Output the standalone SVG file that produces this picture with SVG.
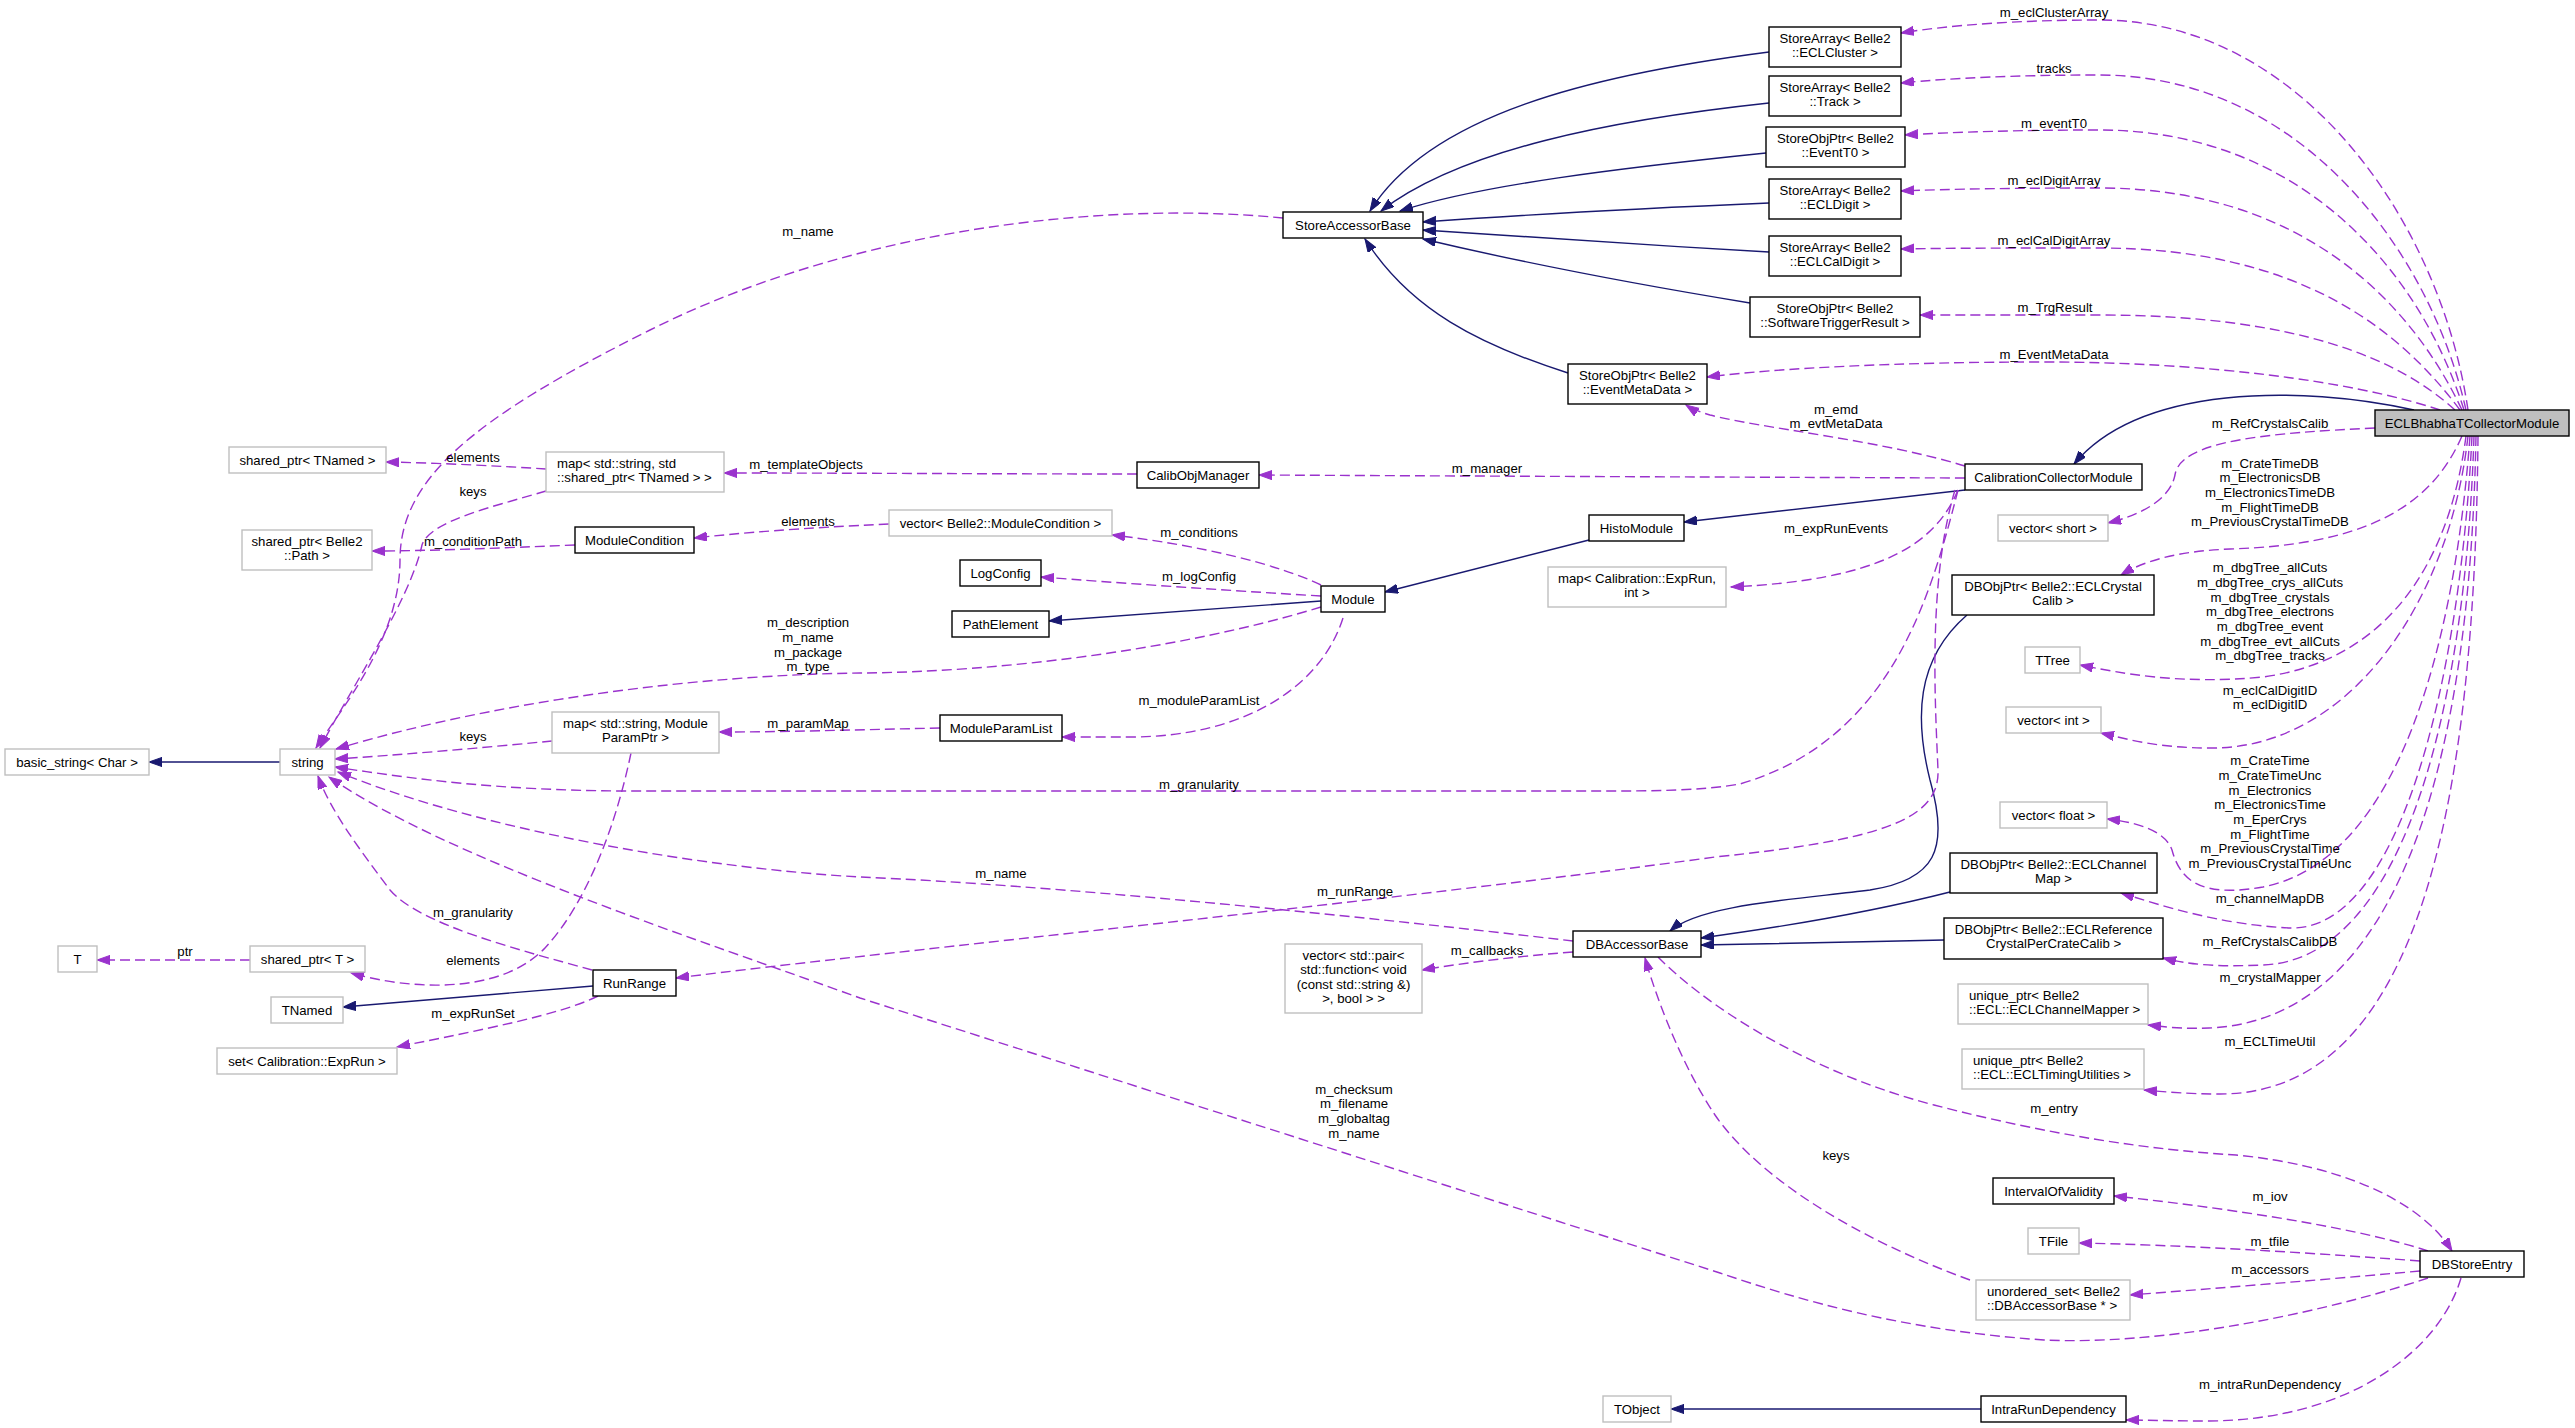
<svg xmlns="http://www.w3.org/2000/svg" width="2575" height="1428" viewBox="0 0 2575 1428">
<style>
text{font-family:"Liberation Sans",Arial,Helvetica,sans-serif;font-size:13.2px;fill:#000}
.n rect{fill:#fff;stroke:#000;stroke-width:1.4}
.u rect{stroke:#bfbfbf}
.root rect{fill:#bfbfbf}
.n text{text-anchor:middle}
.n text.l{text-anchor:start}
.lbl text{text-anchor:middle}
.inh{fill:none;stroke:#191970;stroke-width:1.4;marker-end:url(#an)}
.mem{fill:none;stroke:#9a32cd;stroke-width:1.4;stroke-dasharray:10,5;marker-end:url(#ap)}
</style>
<defs>
<marker id="an" markerUnits="userSpaceOnUse" markerWidth="15" markerHeight="11" refX="13" refY="4.6" orient="auto"><path d="M0,0 L13,4.6 L0,9.2 Z" fill="#191970" stroke="#191970" stroke-width="1"/></marker>
<marker id="ap" markerUnits="userSpaceOnUse" markerWidth="15" markerHeight="11" refX="13" refY="4.6" orient="auto"><path d="M0,0 L13,4.6 L0,9.2 Z" fill="#9a32cd" stroke="#9a32cd" stroke-width="1"/></marker>
</defs>
<rect width="2575" height="1428" fill="#fff"/>

<g id="edges">
<!-- inheritance -->
<path class="inh" d="M1769,52 C1590,75 1430,115 1370,211"/>
<path class="inh" d="M1769,103 C1610,120 1460,150 1381,211"/>
<path class="inh" d="M1766,153 C1620,168 1480,185 1400,211"/>
<path class="inh" d="M1769,203 C1650,208 1520,215 1423,222"/>
<path class="inh" d="M1769,252 C1650,245 1520,237 1423,230"/>
<path class="inh" d="M1750,303 C1640,285 1520,262 1423,239"/>
<path class="inh" d="M1568,373 C1480,345 1410,310 1365,239"/>
<path class="inh" d="M2414,410 C2300,385 2140,385 2074,464"/>
<path class="inh" d="M1965,490 L1684,522"/>
<path class="inh" d="M1589,540 L1385,592"/>
<path class="inh" d="M1321,601 L1049,621"/>
<path class="inh" d="M280,762 L149,762"/>
<path class="inh" d="M593,986 L343,1007"/>
<path class="inh" d="M1981,1409 L1671,1409"/>
<path class="inh" d="M1967,615 C1915,660 1915,720 1930,780 C1950,850 1935,880 1870,890 C1790,900 1700,905 1670,931"/>
<path class="inh" d="M1950,892 C1860,915 1760,930 1701,938"/>
<path class="inh" d="M1944,940 C1860,942 1770,944 1701,945"/>

<!-- members from ECLBhabhaTCollectorModule -->
<path class="mem" d="M2468,410 C2440,220 2300,20 2099,20 C2020,20 1950,25 1901,33"/>
<path class="mem" d="M2466,410 C2430,250 2300,75 2099,75 C2020,75 1950,78 1901,83"/>
<path class="mem" d="M2464,410 C2420,270 2300,130 2099,130 C2020,130 1955,132 1905,135"/>
<path class="mem" d="M2462,410 C2410,300 2300,188 2099,188 C2020,188 1950,189 1901,191"/>
<path class="mem" d="M2460,410 C2400,330 2300,248 2099,248 C2020,248 1950,248 1901,249"/>
<path class="mem" d="M2455,410 C2400,360 2300,315 2099,315 C2030,315 1970,315 1920,315"/>
<path class="mem" d="M2440,410 C2350,380 2200,362 2044,362 C1900,362 1780,368 1707,377"/>
<path class="mem" d="M2375,428 C2270,433 2180,440 2175,475 C2170,500 2140,515 2108,523"/>
<path class="mem" d="M2462,436 C2430,510 2360,545 2230,549 C2180,551 2145,560 2121,575"/>
<path class="mem" d="M2466,436 C2450,560 2390,660 2263,677 C2180,685 2120,673 2080,665"/>
<path class="mem" d="M2468,436 C2450,600 2350,750 2209,748 C2160,748 2130,740 2101,733"/>
<path class="mem" d="M2470,436 C2455,640 2400,860 2263,887 C2200,898 2180,880 2172,850 C2165,830 2135,822 2107,819"/>
<path class="mem" d="M2472,436 C2460,680 2400,930 2291,928 C2220,925 2160,905 2121,893"/>
<path class="mem" d="M2474,436 C2465,720 2400,960 2263,965 C2220,967 2190,965 2163,958"/>
<path class="mem" d="M2476,436 C2470,760 2400,1020 2209,1028 C2180,1029 2165,1027 2148,1025"/>
<path class="mem" d="M2478,436 C2475,800 2420,1094 2220,1094 C2190,1094 2165,1092 2144,1090"/>

<!-- other members -->
<path class="mem" d="M1965,466 C1880,440 1760,428 1710,415 C1700,412 1692,409 1686,405"/>
<path class="mem" d="M1965,478 C1700,477 1450,476 1259,475"/>
<path class="mem" d="M1137,474 C1000,474 850,473 724,473"/>
<path class="mem" d="M546,469 C500,466 440,463 386,462"/>
<path class="mem" d="M546,491 C500,505 430,520 422,545 C410,600 350,690 320,748"/>
<path class="mem" d="M1283,218 C1100,200 850,230 650,330 C470,420 400,480 400,560 C400,640 340,710 316,748"/>
<path class="mem" d="M889,524 C800,528 740,533 694,538"/>
<path class="mem" d="M575,545 C500,548 430,551 372,551"/>
<path class="mem" d="M1321,585 C1280,565 1200,545 1112,535"/>
<path class="mem" d="M1321,596 C1220,590 1120,583 1041,577"/>
<path class="mem" d="M1321,607 C1180,650 1000,672 860,673 C700,675 500,700 336,749"/>
<path class="mem" d="M1343,618 C1320,690 1240,737 1130,737 C1100,737 1080,737 1062,737"/>
<path class="mem" d="M940,728 C850,730 780,732 719,732"/>
<path class="mem" d="M552,741 C480,748 400,755 335,759"/>
<path class="mem" d="M631,753 C615,830 585,905 545,948 C500,995 410,990 351,973"/>
<path class="mem" d="M250,960 L97,960"/>
<path class="mem" d="M1958,490 C1930,600 1890,740 1740,784 C1700,791 1650,791 1600,791 L620,791 C500,790 420,780 335,767"/>
<path class="mem" d="M1958,490 C1935,545 1880,580 1731,587"/>
<path class="mem" d="M1955,490 C1928,580 1935,700 1938,770 C1940,820 1880,840 1715,857 C1400,900 900,950 676,978"/>
<path class="mem" d="M1573,941 C1350,915 1050,885 860,877 C700,868 480,830 338,772"/>
<path class="mem" d="M1573,952 C1520,956 1470,962 1422,970"/>
<path class="mem" d="M1658,957 C1700,1000 1800,1070 1934,1105 C2050,1135 2150,1150 2236,1155 C2340,1165 2420,1200 2452,1251"/>
<path class="mem" d="M1970,1280 C1860,1240 1760,1180 1715,1115 C1685,1070 1660,1010 1645,958"/>
<path class="mem" d="M2428,1251 C2350,1225 2200,1205 2114,1196"/>
<path class="mem" d="M2420,1261 C2300,1252 2180,1245 2079,1243"/>
<path class="mem" d="M2420,1271 C2320,1280 2220,1288 2130,1295"/>
<path class="mem" d="M2428,1278 C2300,1320 2150,1345 2044,1340 C1900,1330 1800,1300 1720,1273 L860,998 C700,940 450,860 329,777"/>
<path class="mem" d="M592,970 C520,950 420,925 390,890 C360,850 330,810 318,776"/>
<path class="mem" d="M2461,1278 C2440,1350 2350,1420 2209,1421 C2170,1421 2145,1420 2126,1420"/>
<path class="mem" d="M598,996 C560,1015 480,1030 397,1047"/>
</g>

<g id="edge-labels" class="lbl">
<text x="2054" y="16.5">m_eclClusterArray</text>
<text x="2054" y="72.5">tracks</text>
<text x="2054" y="127.5">m_eventT0</text>
<text x="2054" y="184.5">m_eclDigitArray</text>
<text x="2054" y="244.5">m_eclCalDigitArray</text>
<text x="2055" y="311.5">m_TrgResult</text>
<text x="2054" y="358.5">m_EventMetaData</text>
<text x="1836" y="413.5">m_emd</text>
<text x="1836" y="428">m_evtMetaData</text>
<text x="2270" y="427.5">m_RefCrystalsCalib</text>
<text x="808" y="235.5">m_name</text>
<text x="806" y="468.5">m_templateObjects</text>
<text x="473" y="461.5">elements</text>
<text x="1487" y="472.5">m_manager</text>
<text x="2270" y="467.5">m_CrateTimeDB</text>
<text x="2270" y="482.2">m_ElectronicsDB</text>
<text x="2270" y="496.9">m_ElectronicsTimeDB</text>
<text x="2270" y="511.6">m_FlightTimeDB</text>
<text x="2270" y="526.3">m_PreviousCrystalTimeDB</text>
<text x="473" y="495.5">keys</text>
<text x="808" y="525.5">elements</text>
<text x="1199" y="536.5">m_conditions</text>
<text x="473" y="545.5">m_conditionPath</text>
<text x="1836" y="532.5">m_expRunEvents</text>
<text x="1199" y="580.5">m_logConfig</text>
<text x="2270" y="572.2">m_dbgTree_allCuts</text>
<text x="2270" y="586.9">m_dbgTree_crys_allCuts</text>
<text x="2270" y="601.6">m_dbgTree_crystals</text>
<text x="2270" y="616.3">m_dbgTree_electrons</text>
<text x="2270" y="631">m_dbgTree_event</text>
<text x="2270" y="645.7">m_dbgTree_evt_allCuts</text>
<text x="2270" y="660.4">m_dbgTree_tracks</text>
<text x="808" y="627.2">m_description</text>
<text x="808" y="641.9">m_name</text>
<text x="808" y="656.6">m_package</text>
<text x="808" y="671.3">m_type</text>
<text x="2270" y="694.5">m_eclCalDigitID</text>
<text x="2270" y="709.2">m_eclDigitID</text>
<text x="1199" y="704.5">m_moduleParamList</text>
<text x="808" y="727.5">m_paramMap</text>
<text x="473" y="740.5">keys</text>
<text x="2270" y="765.2">m_CrateTime</text>
<text x="2270" y="779.9">m_CrateTimeUnc</text>
<text x="2270" y="794.6">m_Electronics</text>
<text x="2270" y="809.3">m_ElectronicsTime</text>
<text x="2270" y="824">m_EperCrys</text>
<text x="2270" y="838.7">m_FlightTime</text>
<text x="2270" y="853.4">m_PreviousCrystalTime</text>
<text x="2270" y="868.1">m_PreviousCrystalTimeUnc</text>
<text x="1199" y="788.5">m_granularity</text>
<text x="1001" y="877.5">m_name</text>
<text x="1355" y="895.5">m_runRange</text>
<text x="2270" y="902.5">m_channelMapDB</text>
<text x="2270" y="945.5">m_RefCrystalsCalibDB</text>
<text x="1487" y="954.5">m_callbacks</text>
<text x="185" y="955.5">ptr</text>
<text x="473" y="964.5">elements</text>
<text x="473" y="916.5">m_granularity</text>
<text x="2270" y="981.5">m_crystalMapper</text>
<text x="473" y="1017.5">m_expRunSet</text>
<text x="2270" y="1045.5">m_ECLTimeUtil</text>
<text x="1354" y="1093.5">m_checksum</text>
<text x="1354" y="1108.2">m_filename</text>
<text x="1354" y="1122.9">m_globaltag</text>
<text x="1354" y="1137.6">m_name</text>
<text x="2054" y="1112.5">m_entry</text>
<text x="1836" y="1159.5">keys</text>
<text x="2270" y="1200.5">m_iov</text>
<text x="2270" y="1245.5">m_tfile</text>
<text x="2270" y="1273.5">m_accessors</text>
<text x="2270" y="1388.5">m_intraRunDependency</text>
</g>

<g id="node-ECLBhabhaTCollectorModule" class="n root"><rect x="2375" y="410" width="194" height="26"/><text x="2472" y="427.5">ECLBhabhaTCollectorModule</text></g>
<g id="node-StoreArrayECLCluster" class="n"><rect x="1769" y="27" width="132" height="40"/><text x="1835" y="42.8">StoreArray&lt; Belle2</text><text x="1835" y="57.3">::ECLCluster &gt;</text></g>
<g id="node-StoreArrayTrack" class="n"><rect x="1769" y="76" width="132" height="40"/><text x="1835" y="91.8">StoreArray&lt; Belle2</text><text x="1835" y="106.3">::Track &gt;</text></g>
<g id="node-StoreObjPtrEventT0" class="n"><rect x="1766" y="127" width="139" height="40"/><text x="1835.5" y="142.8">StoreObjPtr&lt; Belle2</text><text x="1835.5" y="157.3">::EventT0 &gt;</text></g>
<g id="node-StoreArrayECLDigit" class="n"><rect x="1769" y="179" width="132" height="40"/><text x="1835" y="194.8">StoreArray&lt; Belle2</text><text x="1835" y="209.3">::ECLDigit &gt;</text></g>
<g id="node-StoreArrayECLCalDigit" class="n"><rect x="1769" y="236" width="132" height="40"/><text x="1835" y="251.8">StoreArray&lt; Belle2</text><text x="1835" y="266.3">::ECLCalDigit &gt;</text></g>
<g id="node-StoreObjPtrSoftwareTriggerResult" class="n"><rect x="1750" y="297" width="170" height="40"/><text x="1835" y="312.8">StoreObjPtr&lt; Belle2</text><text x="1835" y="327.3">::SoftwareTriggerResult &gt;</text></g>
<g id="node-CalibrationCollectorModule" class="n"><rect x="1965" y="464" width="177" height="26"/><text x="2053.5" y="481.5">CalibrationCollectorModule</text></g>
<g id="node-StoreObjPtrEventMetaData" class="n"><rect x="1568" y="364" width="139" height="40"/><text x="1637.5" y="379.8">StoreObjPtr&lt; Belle2</text><text x="1637.5" y="394.3">::EventMetaData &gt;</text></g>
<g id="node-StoreAccessorBase" class="n"><rect x="1283" y="212" width="140" height="26"/><text x="1353" y="229.5">StoreAccessorBase</text></g>
<g id="node-CalibObjManager" class="n"><rect x="1137" y="462" width="122" height="26"/><text x="1198" y="479.5">CalibObjManager</text></g>
<g id="node-HistoModule" class="n"><rect x="1589" y="515" width="95" height="26"/><text x="1636.5" y="532.5">HistoModule</text></g>
<g id="node-mapExpRunInt" class="n u"><rect x="1548" y="567" width="178" height="40"/><text x="1637" y="582.8">map&lt; Calibration::ExpRun,</text><text x="1637" y="597.3">int &gt;</text></g>
<g id="node-Module" class="n"><rect x="1321" y="586" width="64" height="26"/><text x="1353" y="603.5">Module</text></g>
<g id="node-vectorModuleCondition" class="n u"><rect x="889" y="510" width="223" height="26"/><text x="1000.5" y="527.5">vector&lt; Belle2::ModuleCondition &gt;</text></g>
<g id="node-LogConfig" class="n"><rect x="960" y="560" width="81" height="26"/><text x="1000.5" y="577.5">LogConfig</text></g>
<g id="node-PathElement" class="n"><rect x="952" y="611" width="97" height="26"/><text x="1000.5" y="628.5">PathElement</text></g>
<g id="node-ModuleParamList" class="n"><rect x="940" y="715" width="122" height="26"/><text x="1001" y="732.5">ModuleParamList</text></g>
<g id="node-DBAccessorBase" class="n"><rect x="1573" y="931" width="128" height="26"/><text x="1637" y="948.5">DBAccessorBase</text></g>
<g id="node-vectorPairFunction" class="n u"><rect x="1285" y="944" width="137" height="69"/><text x="1353.5" y="959.8">vector&lt; std::pair&lt;</text><text x="1353.5" y="974.3">std::function&lt; void</text><text x="1353.5" y="988.8">(const std::string &amp;)</text><text x="1353.5" y="1003.3">&gt;, bool &gt; &gt;</text></g>
<g id="node-TObject" class="n u"><rect x="1603" y="1396" width="68" height="26"/><text x="1637" y="1413.5">TObject</text></g>
<g id="node-IntraRunDependency" class="n"><rect x="1981" y="1396" width="145" height="26"/><text x="2053.5" y="1413.5">IntraRunDependency</text></g>
<g id="node-DBStoreEntry" class="n"><rect x="2420" y="1251" width="104" height="26"/><text x="2472" y="1268.5">DBStoreEntry</text></g>
<g id="node-IntervalOfValidity" class="n"><rect x="1993" y="1178" width="121" height="26"/><text x="2053.5" y="1195.5">IntervalOfValidity</text></g>
<g id="node-TFile" class="n u"><rect x="2028" y="1228" width="51" height="26"/><text x="2053.5" y="1245.5">TFile</text></g>
<g id="node-unorderedSet" class="n u"><rect x="1976" y="1280" width="154" height="40"/><text class="l" x="1987" y="1295.8">unordered_set&lt; Belle2</text><text class="l" x="1987" y="1310.3">::DBAccessorBase * &gt;</text></g>
<g id="node-uniquePtrChannelMapper" class="n u"><rect x="1958" y="984" width="190" height="40"/><text class="l" x="1969" y="999.8">unique_ptr&lt; Belle2</text><text class="l" x="1969" y="1014.3">::ECL::ECLChannelMapper &gt;</text></g>
<g id="node-uniquePtrTimingUtilities" class="n u"><rect x="1962" y="1049" width="182" height="40"/><text class="l" x="1973" y="1064.8">unique_ptr&lt; Belle2</text><text class="l" x="1973" y="1079.3">::ECL::ECLTimingUtilities &gt;</text></g>
<g id="node-DBObjPtrRefCrystal" class="n"><rect x="1944" y="918" width="219" height="41"/><text x="2053.5" y="933.8">DBObjPtr&lt; Belle2::ECLReference</text><text x="2053.5" y="948.3">CrystalPerCrateCalib &gt;</text></g>
<g id="node-DBObjPtrChannelMap" class="n"><rect x="1950" y="853" width="207" height="40"/><text x="2053.5" y="868.8">DBObjPtr&lt; Belle2::ECLChannel</text><text x="2053.5" y="883.3">Map &gt;</text></g>
<g id="node-vectorFloat" class="n u"><rect x="2000" y="802" width="107" height="26"/><text x="2053.5" y="819.5">vector&lt; float &gt;</text></g>
<g id="node-vectorInt" class="n u"><rect x="2006" y="707" width="95" height="26"/><text x="2053.5" y="724.5">vector&lt; int &gt;</text></g>
<g id="node-TTree" class="n u"><rect x="2025" y="647" width="55" height="26"/><text x="2052.5" y="664.5">TTree</text></g>
<g id="node-DBObjPtrCrystalCalib" class="n"><rect x="1952" y="575" width="202" height="40"/><text x="2053" y="590.8">DBObjPtr&lt; Belle2::ECLCrystal</text><text x="2053" y="605.3">Calib &gt;</text></g>
<g id="node-vectorShort" class="n u"><rect x="1998" y="515" width="110" height="26"/><text x="2053" y="532.5">vector&lt; short &gt;</text></g>
<g id="node-sharedPtrTNamed" class="n u"><rect x="229" y="447" width="157" height="26"/><text x="307.5" y="464.5">shared_ptr&lt; TNamed &gt;</text></g>
<g id="node-mapTemplateObjects" class="n u"><rect x="546" y="452" width="178" height="40"/><text class="l" x="557" y="467.8">map&lt; std::string, std</text><text class="l" x="557" y="482.3">::shared_ptr&lt; TNamed &gt; &gt;</text></g>
<g id="node-sharedPtrPath" class="n u"><rect x="242" y="530" width="130" height="40"/><text x="307" y="545.8">shared_ptr&lt; Belle2</text><text x="307" y="560.3">::Path &gt;</text></g>
<g id="node-ModuleCondition" class="n"><rect x="575" y="527" width="119" height="26"/><text x="634.5" y="544.5">ModuleCondition</text></g>
<g id="node-basicString" class="n u"><rect x="5" y="749" width="144" height="26"/><text x="77" y="766.5">basic_string&lt; Char &gt;</text></g>
<g id="node-string" class="n u"><rect x="280" y="749" width="55" height="26"/><text x="307.5" y="766.5">string</text></g>
<g id="node-mapModuleParamPtr" class="n u"><rect x="552" y="712" width="167" height="41"/><text x="635.5" y="727.8">map&lt; std::string, Module</text><text x="635.5" y="742.3">ParamPtr &gt;</text></g>
<g id="node-T" class="n u"><rect x="58" y="946" width="39" height="26"/><text x="77.5" y="963.5">T</text></g>
<g id="node-sharedPtrT" class="n u"><rect x="250" y="946" width="115" height="26"/><text x="307.5" y="963.5">shared_ptr&lt; T &gt;</text></g>
<g id="node-RunRange" class="n"><rect x="593" y="970" width="83" height="26"/><text x="634.5" y="987.5">RunRange</text></g>
<g id="node-TNamed" class="n u"><rect x="271" y="997" width="72" height="26"/><text x="307" y="1014.5">TNamed</text></g>
<g id="node-setExpRun" class="n u"><rect x="217" y="1048" width="180" height="26"/><text x="307" y="1065.5">set&lt; Calibration::ExpRun &gt;</text></g>
</svg>
